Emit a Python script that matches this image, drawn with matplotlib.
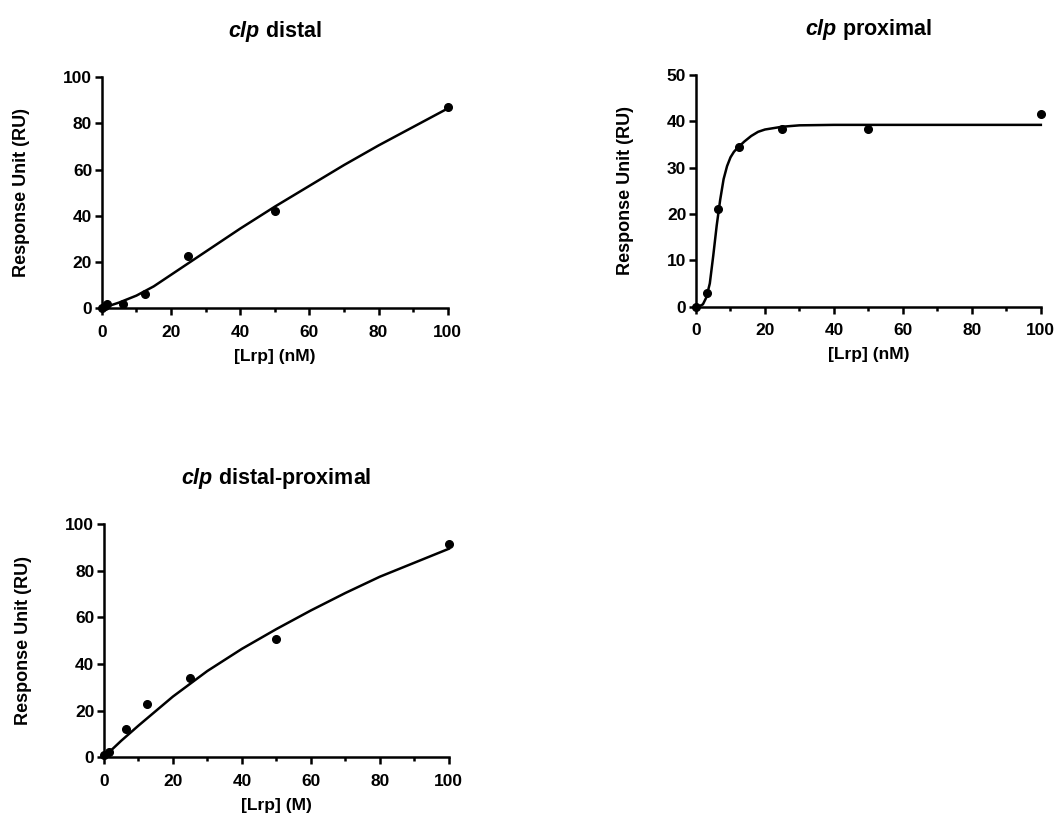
import matplotlib.pyplot as plt
from matplotlib.ticker import MultipleLocator

plt.rcParams['font.family'] = ['Liberation Sans', 'DejaVu Sans']
plt.rcParams['font.weight'] = 'bold'
plt.rcParams['mathtext.fontset'] = 'custom'
plt.rcParams['mathtext.bfit'] = 'Liberation Sans:italic:bold'
plt.rcParams['mathtext.rm'] = 'Liberation Sans:bold'

# clp distal
distal_x = [0, 0.78, 1.56, 6.25, 12.5, 25, 50, 100]
distal_y = [0, 1, 2, 2, 6, 22.5, 42, 87]
distal_fit_x = [0, 5, 10, 15, 20, 25, 30, 40, 50, 60, 70, 80, 90, 100]
distal_fit_y = [0, 2.5, 5.5, 9.5, 14.5, 19.5, 24.5, 34.5, 44, 53, 62, 70.5, 78.5, 86.5]

# clp proximal
prox_x = [0, 3.125, 6.25, 12.5, 25, 50, 100]
prox_y = [0, 2.9, 21.1, 34.5, 38.3, 38.4, 41.5]
prox_fit_x = [0, 1, 2, 3, 4, 5, 6, 7, 8, 9, 10, 11, 12, 13, 14, 16, 18, 20, 25, 30, 40, 60, 80, 100]
prox_fit_y = [0, 0.1, 0.5, 2, 5, 11, 17.5, 23, 27.5, 30.3, 32.2, 33.4, 34.2, 34.9, 35.6, 36.8, 37.7,
              38.2, 38.8, 39.1, 39.2, 39.2, 39.2, 39.2]

# clp distal-proximal
dp_x = [0, 1.56, 6.25, 12.5, 25, 50, 100]
dp_y = [1, 2, 12, 23, 33.8, 50.8, 91.5]
dp_fit_x = [0, 5, 10, 20, 30, 40, 50, 60, 70, 80, 90, 100]
dp_fit_y = [0, 7, 13.5, 26, 37, 46.5, 55, 63, 70.5, 77.5, 83.5, 89.5]

fig = plt.figure(figsize=(10.61, 8.31), dpi=100)

panels = [
    ([0.096, 0.629, 0.326, 0.278], r'$\mathbfit{clp}$ distal', distal_x, distal_y,
     distal_fit_x, distal_fit_y, 100, 20, '[Lrp] (nM)'),
    ([0.656, 0.631, 0.325, 0.279], r'$\mathbfit{clp}$ proximal', prox_x, prox_y,
     prox_fit_x, prox_fit_y, 50, 10, '[Lrp] (nM)'),
    ([0.098, 0.089, 0.325, 0.280], r'$\mathbfit{clp}$ distal-proximal', dp_x, dp_y,
     dp_fit_x, dp_fit_y, 100, 20, '[Lrp] (M)'),
]

for rect, title, x, y, fx, fy, ymax, ystep, xlabel in panels:
    ax = fig.add_axes(rect)
    ax.plot(fx, fy, color='black', lw=1.8, clip_on=False)
    ax.plot(x, y, 'o', color='black', ms=5.5, clip_on=False)
    ax.set_xlim(0, 100)
    ax.set_ylim(0, ymax)
    ax.xaxis.set_major_locator(MultipleLocator(20))
    ax.xaxis.set_minor_locator(MultipleLocator(10))
    ax.yaxis.set_major_locator(MultipleLocator(ystep))
    for s in ['top', 'right']:
        ax.spines[s].set_visible(False)
    for s in ['left', 'bottom']:
        ax.spines[s].set_linewidth(1.8)
    ax.tick_params(which='major', length=5, width=1.8, labelsize=12.5, pad=2)
    ax.tick_params(which='minor', length=3, width=1.8)
    ax.tick_params(axis='x', which='major', pad=7)
    ax.set_xlabel(xlabel, fontsize=12.5, fontweight='bold', labelpad=6.5)
    ax.set_ylabel('Response Unit (RU)', fontsize=13, fontweight='bold', labelpad=24)
    ax.set_title(title, fontsize=15.5, fontweight='bold', pad=29)

fig.savefig('out.png', dpi=100)
